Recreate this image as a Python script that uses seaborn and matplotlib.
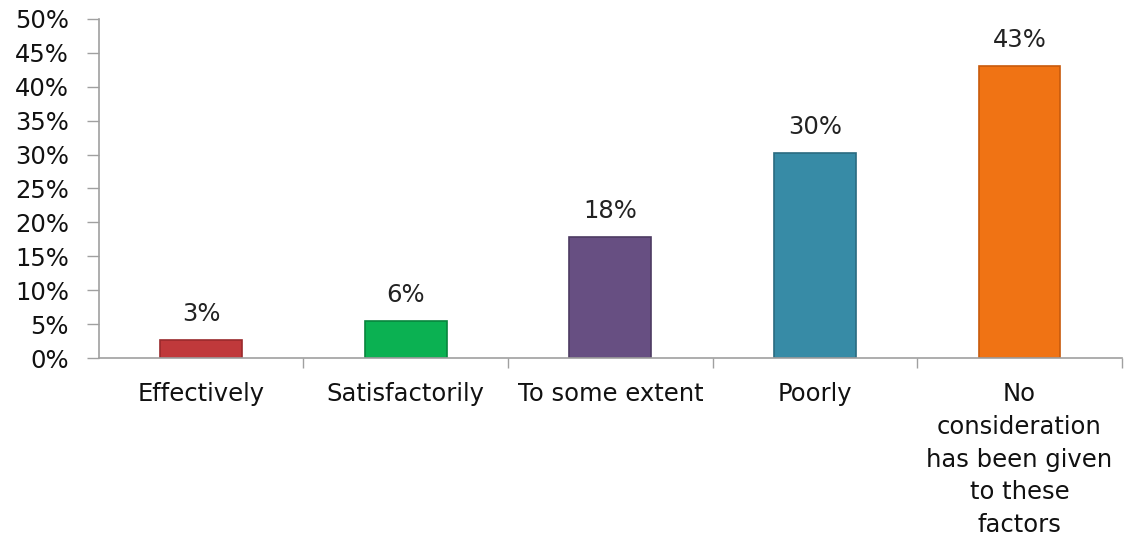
import matplotlib
matplotlib.use("Agg")
import matplotlib.pyplot as plt
import seaborn as sns
import pandas as pd
from matplotlib.ticker import FuncFormatter, FixedLocator

categories = ["Effectively", "Satisfactorily", "To some extent", "Poorly",
              "No\nconsideration\nhas been given\nto these\nfactors"]
values = [2.7, 5.5, 17.9, 30.3, 43.1]
value_labels = ["3%", "6%", "18%", "30%", "43%"]
colors = ["#c0393b", "#0bb152", "#674f82", "#378ba6", "#f07314"]
edge_colors = ["#9a2a2c", "#08853d", "#4d3b62", "#2a6b80", "#c85a0c"]
yticks = [0, 5, 10, 15, 20, 25, 30, 35, 40, 45, 50]

sns.set_theme(style="white")
plt.rcParams["font.family"] = ["DejaVu Sans"]

df = pd.DataFrame({"cat": categories, "val": values})

fig = plt.figure(figsize=(11.24, 5.37), dpi=100)
ax = fig.add_axes([0.088, 0.333, 0.910, 0.632])

sns.barplot(data=df, x="cat", y="val", hue="cat", palette=colors, legend=False,
            width=0.4, ax=ax, saturation=1)

for p, ec in zip(ax.patches, edge_colors):
    p.set_edgecolor(ec)
    p.set_linewidth(1.2)

for i, (v, lab) in enumerate(zip(values, value_labels)):
    ax.annotate(lab, (i, v), xytext=(0, 10), textcoords="offset points",
                ha="center", va="bottom", fontsize=17.5, color="#222222")

ax.set_xlim(-0.5, 4.5)
ax.set_ylim(0, 50)
ax.set_yticks(yticks)
ax.yaxis.set_major_formatter(FuncFormatter(lambda v, p: f"{int(v)}%"))
ax.set_xlabel("")
ax.set_ylabel("")

ax.tick_params(axis="y", labelsize=17.5, length=8.5, width=1, color="#a0a0a0",
               direction="out", pad=13, left=True, labelcolor="#111111")
ax.tick_params(axis="x", which="major", length=0, labelsize=17.5, pad=17.5,
               labelcolor="#111111")
ax.xaxis.set_minor_locator(FixedLocator([0.5, 1.5, 2.5, 3.5, 4.5]))
ax.tick_params(axis="x", which="minor", length=7, width=1, color="#a0a0a0",
               bottom=True, direction="out")
for t in ax.get_xticklabels():
    t.set_linespacing(1.45)
    t.set_va("top")

for s in ["top", "right"]:
    ax.spines[s].set_visible(False)
for s in ["left", "bottom"]:
    ax.spines[s].set_color("#a0a0a0")
    ax.spines[s].set_linewidth(1.2)
ax.grid(False)

fig.savefig("out.png", dpi=100)
